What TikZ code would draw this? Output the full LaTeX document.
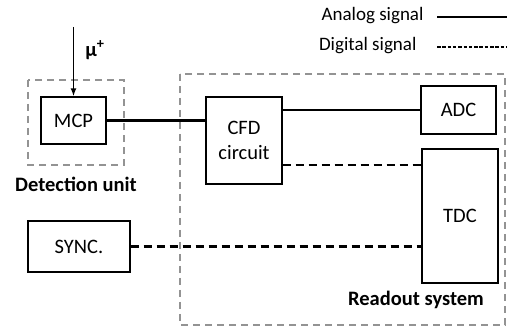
\documentclass[tikz,border=0pt]{standalone}
\usepackage{fontspec}
\setmainfont{Carlito}
\usetikzlibrary{arrows.meta}

\begin{document}
\begin{tikzpicture}
[x=1pt,y=-1pt,font=\fontsize{19}{22}\selectfont,
 box/.style={draw,line width=1.3pt,inner sep=0pt,align=center,
   font=\fontsize{20.5}{25}\selectfont},
 unit/.style={draw=gray!85,line width=2.5pt,dash pattern=on 7pt off 5pt},
 analog/.style={line width=2.6pt},
 digital/.style={line width=2.6pt,dash pattern=on 8pt off 5pt},
 title/.style={font=\fontsize{20.5}{24}\selectfont\bfseries}]
\useasboundingbox (0,0) rectangle (507,326);
% units
\draw[unit] (28,80) rectangle (124,165);
\draw[unit] (180,74) rectangle (505,325);
\node[title] (det) at (76,184) {Detection unit};
\node[title] (rdo) at (416,300) {Readout system};
% blocks
\node[box,minimum width=65pt,minimum height=47pt] (mcp) at (73.5,120.5) {MCP};
\node[box,minimum width=76pt,minimum height=87pt] (cfd) at (244,140.5) {CFD\\circuit};
\node[box,minimum width=75pt,minimum height=48pt] (adc) at (458.5,110) {ADC};
\node[box,minimum width=76pt,minimum height=134pt] (tdc) at (460,216) {TDC};
\node[box,minimum width=102pt,minimum height=51pt] (sync) at (79,246.5) {SYNC.};
% muon
\coordinate (mu) at (73.5,27);
\node[title,inner sep=0pt] (mulab) at (95,50) {μ\textsuperscript{+}};
\draw[line width=1.8pt,-{Latex[length=8pt,width=6pt]}] (mu) -- (mcp.north);
% signals
\draw[analog] (mcp.east) -- (mcp.east -| cfd.west);
\draw[analog] (cfd.east |- adc.west) -- (adc.west);
\coordinate (c2t) at (cfd.east |- 0,165);
\draw[digital] (c2t) -- (c2t -| tdc.west);
\draw[digital] (sync.east) -- (sync.east -| tdc.west);
% legend
\node[anchor=east] (ana) at (427,16) {Analog signal};
\node[anchor=east] (dig) at (420,46) {Digital signal};
\coordinate (a1) at (437,17);
\coordinate (d1) at (437,47);
\draw[line width=2pt] (a1) -- (a1 -| 507,0);
\draw[line width=2pt,dash pattern=on 3.5pt off 1.8pt] (d1) -- (d1 -| 507,0);
\end{tikzpicture}
\end{document}
